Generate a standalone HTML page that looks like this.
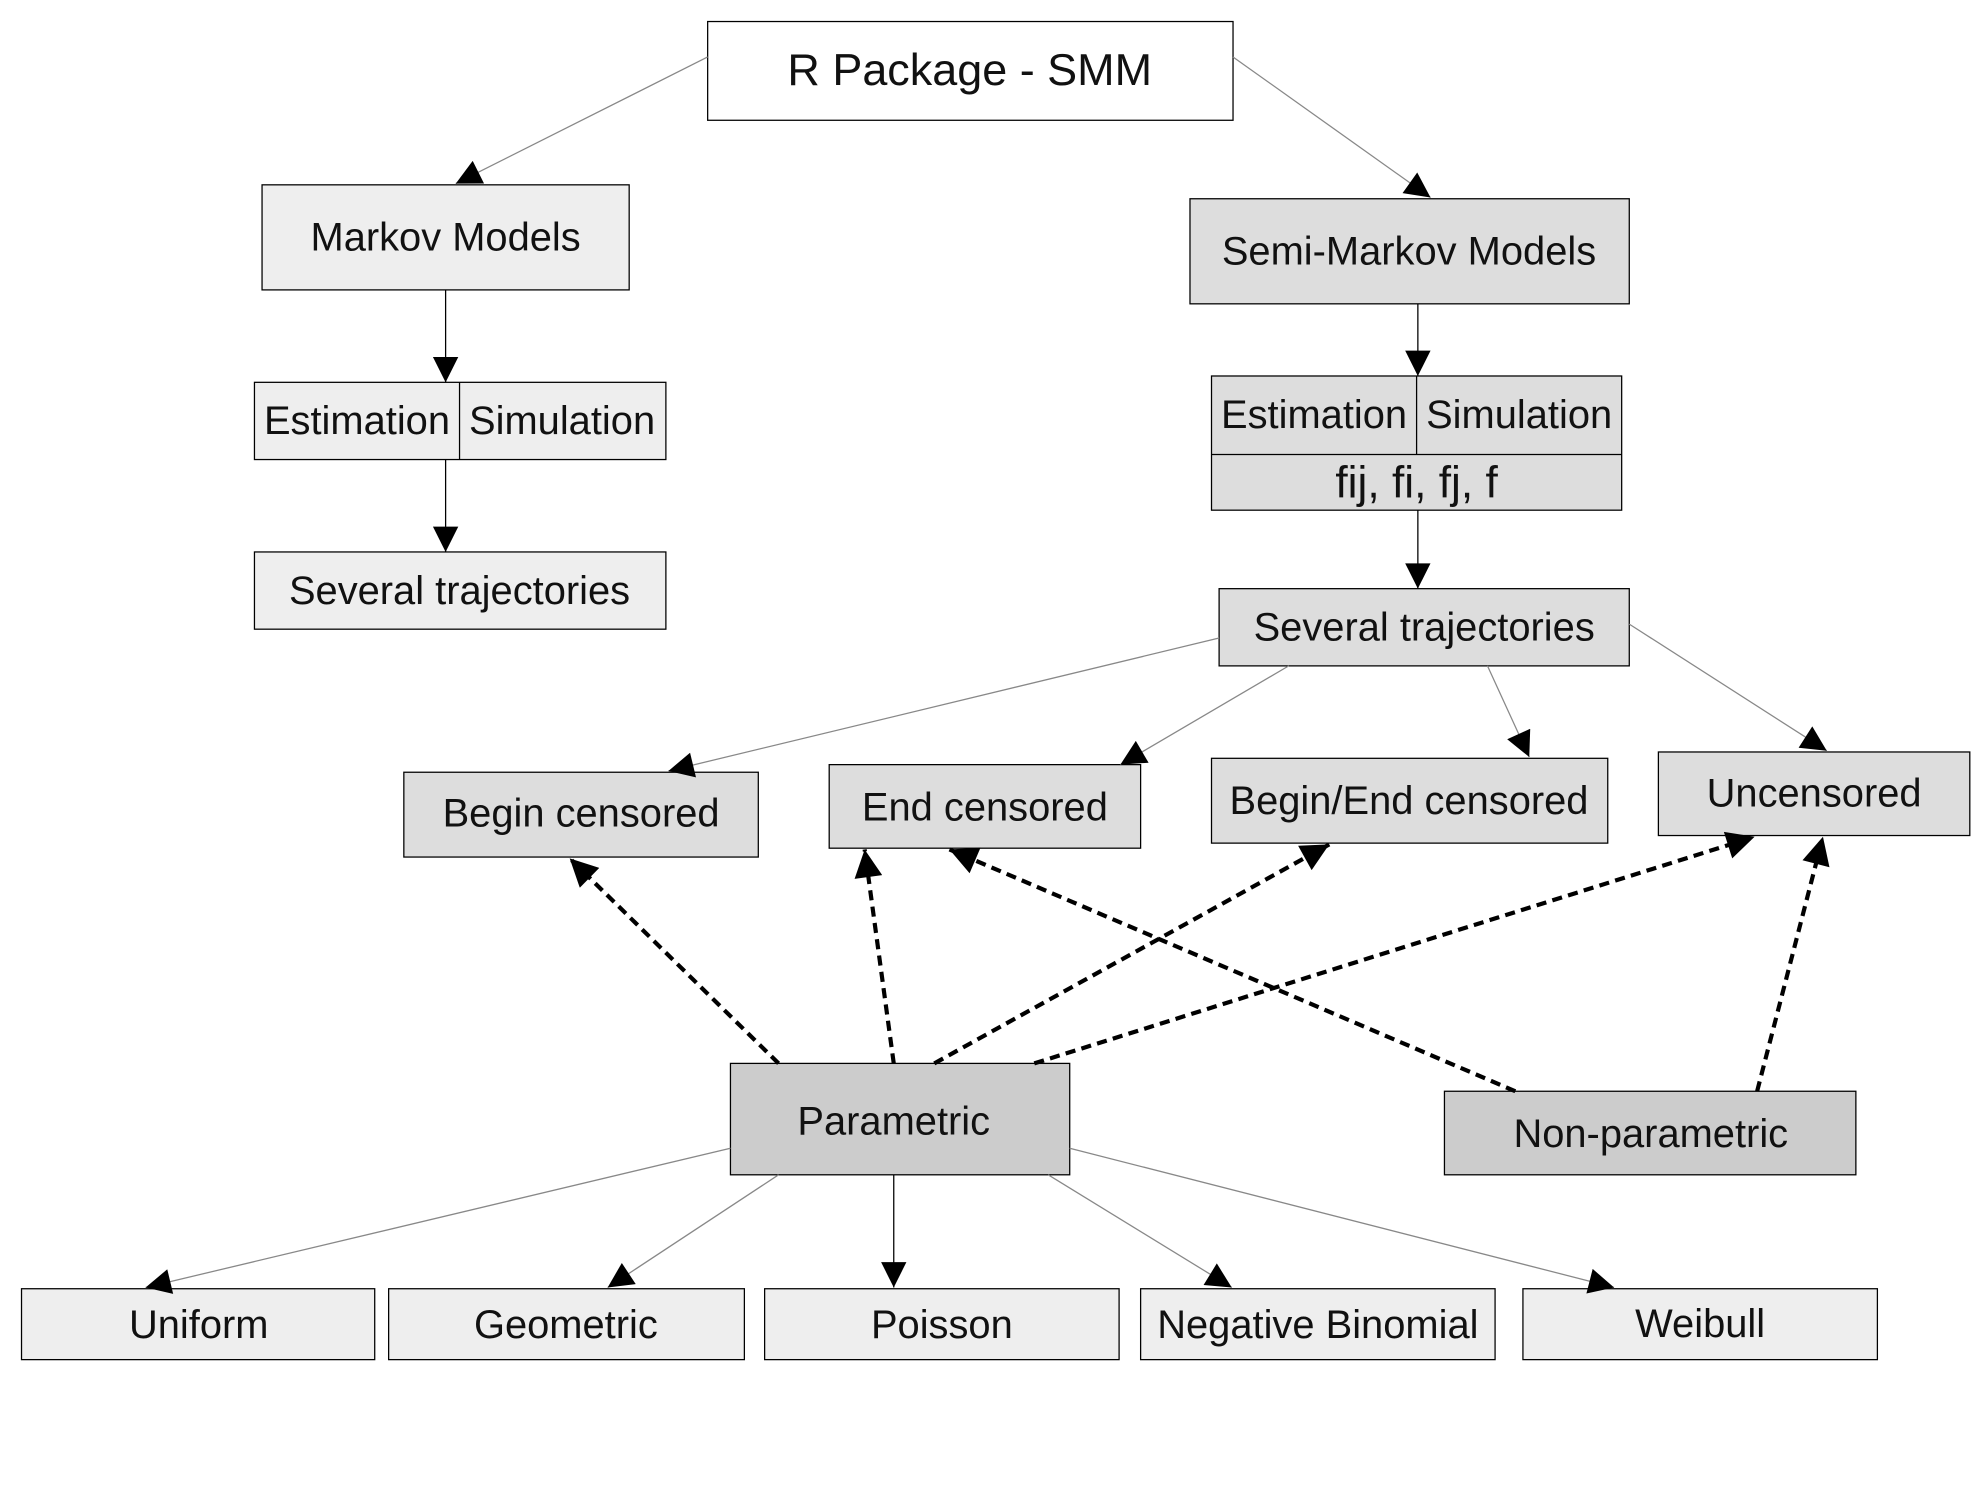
<!DOCTYPE html>
<html><head><meta charset="utf-8"><style>
html,body{margin:0;padding:0;background:#fff}
svg{display:block}
text{font-family:"Liberation Sans",sans-serif;fill:#111}
</style></head><body>
<svg width="1985" height="1488" viewBox="0 0 1568 1175.4" xmlns="http://www.w3.org/2000/svg">
<defs>
<marker id="a" viewBox="0 0 10 10" refX="10" refY="5" markerUnits="userSpaceOnUse" markerWidth="24" markerHeight="20" orient="auto"><path d="M0,0L10,5L0,10z" fill="#000"/></marker>
<marker id="b" viewBox="0 0 10 10" refX="10" refY="5" markerUnits="userSpaceOnUse" markerWidth="26" markerHeight="22" orient="auto"><path d="M0,0L10,5L0,10z" fill="#000"/></marker>
</defs>
<g stroke="#000" stroke-width="1">
<rect x="559" y="17" width="415" height="78" fill="#fff"/>
<rect x="207" y="146" width="290" height="83" fill="#eee"/>
<rect x="940" y="157" width="347" height="83" fill="#ddd"/>
<rect x="201" y="302" width="325" height="61" fill="#eee"/>
<line x1="363" y1="302" x2="363" y2="363"/>
<rect x="957" y="297" width="324" height="106" fill="#ddd"/>
<line x1="1119" y1="297" x2="1119" y2="359"/>
<line x1="957" y1="359" x2="1281" y2="359"/>
<rect x="201" y="436" width="325" height="61" fill="#eee"/>
<rect x="963" y="465" width="324" height="61" fill="#ddd"/>
<rect x="319" y="610" width="280" height="67" fill="#ddd"/>
<rect x="655" y="604" width="246" height="66" fill="#ddd"/>
<rect x="957" y="599" width="313" height="67" fill="#ddd"/>
<rect x="1310" y="594" width="246" height="66" fill="#ddd"/>
<rect x="577" y="840" width="268" height="88" fill="#ccc"/>
<rect x="1141" y="862" width="325" height="66" fill="#ccc"/>
<rect x="17" y="1018" width="279" height="56" fill="#eee"/>
<rect x="307" y="1018" width="281" height="56" fill="#eee"/>
<rect x="604" y="1018" width="280" height="56" fill="#eee"/>
<rect x="901" y="1018" width="280" height="56" fill="#eee"/>
<rect x="1203" y="1018" width="280" height="56" fill="#eee"/>
</g>
<g stroke="#888" stroke-width="1" fill="none" marker-end="url(#a)">
<line x1="559" y1="45" x2="360" y2="145"/>
<line x1="974" y1="45" x2="1130" y2="156"/>
<line x1="963" y1="504" x2="528" y2="609"/>
<line x1="1018" y1="526" x2="885" y2="604"/>
<line x1="1175" y1="526" x2="1208" y2="598"/>
<line x1="1287" y1="493" x2="1443" y2="593"/>
<line x1="577" y1="907" x2="115" y2="1017"/>
<line x1="615" y1="928" x2="480" y2="1017"/>
<line x1="828" y1="928" x2="973" y2="1017"/>
<line x1="845" y1="907" x2="1275" y2="1017"/>
</g>
<g stroke="#000" stroke-width="1" fill="none" marker-end="url(#a)">
<line x1="352" y1="229" x2="352" y2="302"/>
<line x1="352" y1="363" x2="352" y2="436"/>
<line x1="1120" y1="240" x2="1120" y2="297"/>
<line x1="1120" y1="403" x2="1120" y2="465"/>
<line x1="706" y1="928" x2="706" y2="1017"/>
</g>
<g stroke="#000" stroke-width="3.3" stroke-dasharray="8,5" fill="none" marker-end="url(#b)">
<line x1="615" y1="840" x2="450" y2="678"/>
<line x1="706" y1="840" x2="683" y2="671"/>
<line x1="738" y1="840" x2="1050" y2="667"/>
<line x1="817" y1="840" x2="1386" y2="661"/>
<line x1="1197" y1="862" x2="750" y2="671"/>
<line x1="1388" y1="862" x2="1440" y2="661"/>
</g>
<g font-size="31.5" text-anchor="middle">
<text x="766" y="67" font-size="35.5">R Package - SMM</text>
<text x="352" y="198">Markov Models</text>
<text x="1113" y="209">Semi-Markov Models</text>
<text x="282" y="343">Estimation</text>
<text x="444" y="343">Simulation</text>
<text x="1038" y="338">Estimation</text>
<text x="1200" y="338">Simulation</text>
<text x="1119" y="393" font-size="35">fij, fi, fj, f</text>
<text x="363" y="477">Several trajectories</text>
<text x="1125" y="506">Several trajectories</text>
<text x="459" y="653">Begin censored</text>
<text x="778" y="648">End censored</text>
<text x="1113" y="643">Begin/End censored</text>
<text x="1433" y="637">Uncensored</text>
<text x="706" y="896">Parametric</text>
<text x="1304" y="906">Non-parametric</text>
<text x="157" y="1057">Uniform</text>
<text x="447" y="1057">Geometric</text>
<text x="744" y="1057">Poisson</text>
<text x="1041" y="1057">Negative Binomial</text>
<text x="1343" y="1056">Weibull</text>
</g>
</svg>
</body></html>
